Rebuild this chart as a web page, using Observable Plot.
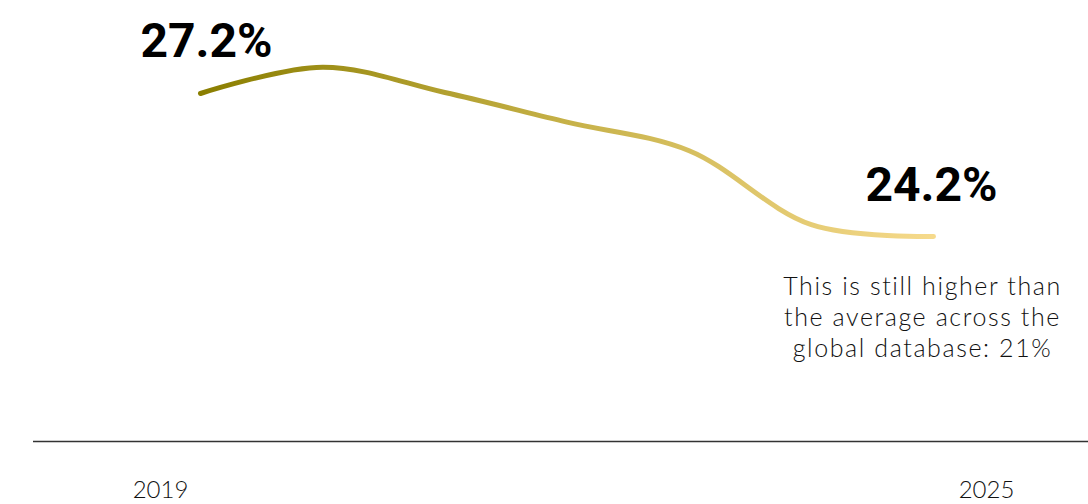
<!DOCTYPE html>
<html>
<head>
<meta charset="utf-8">
<script src="https://cdn.jsdelivr.net/npm/d3@7"></script>
<script src="https://cdn.jsdelivr.net/npm/@observablehq/plot@0.6"></script>
<style>
  html, body { margin: 0; padding: 0; background: #fff; }
  #chart svg { display: block; }
  #chart g[font-size="25"] text { letter-spacing: 1.6px; }
</style>
</head>
<body>
<div id="chart"></div>
<script>
const years = [2019, 2020, 2021, 2022, 2023, 2024, 2025];
const shares = [27.2, 27.75, 27.22, 26.6, 26.0, 24.45, 24.2];
const endLabels = ["27.2%", "24.2%"];
const axisLabels = ["2019", "2025"];
const note = "This is still higher than\nthe average across the\nglobal database: 21%";
const baseValue = 19.9;

const data = years.map((year, i) => ({year, share: shares[i]}));
const first = data[0], last = data[data.length - 1];

const gradientDefs = () => {
  const defs = d3.create("svg:defs");
  const g = defs.append("linearGradient").attr("id", "lineGrad")
    .attr("x1", "0%").attr("x2", "100%").attr("y1", "0%").attr("y2", "0%");
  g.append("stop").attr("offset", "0%").attr("stop-color", "#8a7e00");
  g.append("stop").attr("offset", "50%").attr("stop-color", "#c6b148");
  g.append("stop").attr("offset", "100%").attr("stop-color", "#f6da8c");
  return defs.node();
};

const chart = Plot.plot({
  width: 1088,
  height: 504,
  marginLeft: 33,
  marginRight: 0,
  marginTop: 0,
  marginBottom: 0,
  style: {fontFamily: "Lato, sans-serif", background: "#fff"},
  x: {domain: [2019, 2025], range: [200, 933], axis: null},
  y: {domain: [baseValue, 27.2], range: [441, 93], axis: null},
  marks: [
    gradientDefs,
    Plot.ruleY([baseValue], {stroke: "#333", strokeWidth: 1.5}),
    Plot.line(data, {
      x: "year", y: "share", curve: "catmull-rom",
      stroke: "url(#lineGrad)", strokeWidth: 5, strokeLinecap: "round"
    }),
    Plot.text([first], {x: "year", y: "share", text: () => endLabels[0],
      dy: -37, lineAnchor: "bottom", fontSize: 48, fontWeight: 700,
      fontFamily: "Roboto, sans-serif", fill: "#000", dx: 6}),
    Plot.text([last], {x: "year", y: "share", text: () => endLabels[1],
      dy: -36, lineAnchor: "bottom", fontSize: 48, fontWeight: 700,
      fontFamily: "Roboto, sans-serif", fill: "#000", dx: -2}),
    Plot.text([last], {x: "year", y: "share", text: () => note,
      dx: -11, dy: 36, lineAnchor: "top", lineHeight: 1.24, fontSize: 25,
      fontWeight: 300, fill: "#111"}),
    Plot.text([{year: 2019}], {x: "year", y: () => baseValue, text: () => axisLabels[0],
      dx: -40, dy: 56, lineAnchor: "bottom", fontSize: 24, fontWeight: 300, fill: "#111"}),
    Plot.text([{year: 2025}], {x: "year", y: () => baseValue, text: () => axisLabels[1],
      dx: 53, dy: 56, lineAnchor: "bottom", fontSize: 24, fontWeight: 300, fill: "#111"})
  ]
});
document.getElementById("chart").append(chart);
</script>
</body>
</html>
